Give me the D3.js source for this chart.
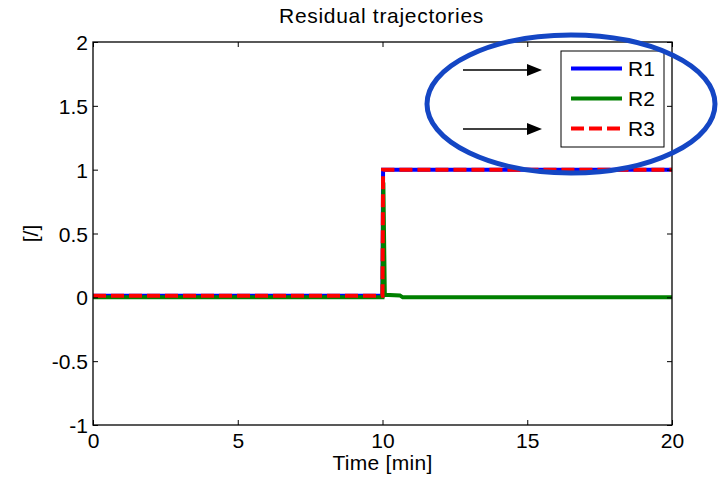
<!DOCTYPE html>
<html><head><meta charset="utf-8">
<script src="https://cdn.jsdelivr.net/npm/d3@7"></script>
<style>body{margin:0;background:#fff}svg{display:block}text{font-family:Arial,"Liberation Sans",sans-serif;fill:#000}</style>
</head><body>
<svg id="c" width="727" height="483"></svg>
<script>
const xTicks = [0, 5, 10, 15, 20];
const yTicks = [-1, -0.5, 0, 0.5, 1, 1.5, 2];
const yTickLabels = ["-1", "-0.5", "0", "0.5", "1", "1.5", "2"];
const r1Time = [0, 10, 10.02, 20];
const r1Vals = [0.012, 0.012, 1, 1];
const r2Time = [0, 10, 10.03, 10.08, 10.6, 10.7, 20];
const r2Vals = [0, 0, 0.9, 0.02, 0.015, 0, 0];
const r3Time = [0, 10, 10.02, 20];
const r3Vals = [0.012, 0.012, 1, 1];
const seriesNames = ["R1", "R2", "R3"];
const seriesColors = ["#0000ff", "#008000", "#ff0000"];

const svg = d3.select("#c");
const L = 93, R = 672, T = 42, B = 425;
const FS = "21px";
const x = d3.scaleLinear().domain([0, 20]).range([L, R]);
const y = d3.scaleLinear().domain([-1, 2]).range([B, T]);

const line = d3.line().x(d => x(d[0])).y(d => y(d[1]));
const series = [
  {t: r1Time, v: r1Vals, c: seriesColors[0], dash: null},
  {t: r2Time, v: r2Vals, c: seriesColors[1], dash: null},
  {t: r3Time, v: r3Vals, c: seriesColors[2], dash: "13,5"}
];
const defs = svg.append("defs");
defs.append("clipPath").attr("id","pc").append("rect")
  .attr("x", L).attr("y", T).attr("width", R-L).attr("height", B-T);
const g = svg.append("g").attr("clip-path", "url(#pc)");
series.forEach(s => {
  g.append("path").attr("d", line(s.t.map((t,i)=>[t, s.v[i]])))
    .attr("fill","none").attr("stroke", s.c).attr("stroke-width", 4)
    .attr("stroke-dasharray", s.dash).attr("stroke-linejoin","miter");
});

svg.append("rect").attr("x", L).attr("y", T).attr("width", R-L).attr("height", B-T)
  .attr("fill","none").attr("stroke","#000").attr("stroke-width",1.3);

const xAx = d3.axisBottom(x).tickValues(xTicks).tickSize(-5).tickPadding(8).tickFormat(d3.format("d"));
const xg = svg.append("g").attr("transform", `translate(0,${B})`).call(xAx);
svg.append("g").attr("transform", `translate(0,${T})`).call(d3.axisTop(x).tickValues(xTicks).tickSize(-5).tickFormat(""));
const yAx = d3.axisLeft(y).tickValues(yTicks).tickSize(-5).tickPadding(5).tickFormat((d,i)=>yTickLabels[i]);
const yg = svg.append("g").attr("transform", `translate(${L},0)`).call(yAx);
svg.append("g").attr("transform", `translate(${R},0)`).call(d3.axisRight(y).tickValues(yTicks).tickSize(-5).tickFormat(""));
svg.selectAll(".domain").remove();
svg.selectAll(".tick line").attr("stroke","#000").attr("stroke-width",1);
svg.selectAll(".tick text").style("font-size",FS).attr("fill","#000");
xg.selectAll(".tick text").attr("dy","0.72em");
yg.selectAll(".tick text").attr("dy","0.36em");

svg.append("text").attr("x", (L+R)/2 - 1).attr("y", 23).attr("text-anchor","middle")
  .style("font-size",FS).style("letter-spacing","0.7px").text("Residual trajectories");
svg.append("text").attr("x", (L+R)/2).attr("y", 470).attr("text-anchor","middle")
  .style("font-size",FS).style("letter-spacing","0.3px").text("Time [min]");
svg.append("text").attr("transform", `translate(38,${(T+B)/2}) rotate(-90)`).attr("text-anchor","middle")
  .style("font-size",FS).text("[/]");

const lg = svg.append("g");
lg.append("rect").attr("x", 561).attr("y", 51).attr("width", 103).attr("height", 96)
  .attr("fill","#fff").attr("stroke","#000").attr("stroke-width",1);
const rowsY = [68.5, 98.5, 128.5];
series.forEach((s, i) => {
  lg.append("line").attr("x1", 571).attr("x2", 622).attr("y1", rowsY[i]).attr("y2", rowsY[i])
    .attr("stroke", s.c).attr("stroke-width", 4).attr("stroke-dasharray", s.dash);
  lg.append("text").attr("x", 628).attr("y", rowsY[i]).attr("dy","0.36em")
    .style("font-size",FS).text(seriesNames[i]);
});

[70, 129].forEach(yy => {
  svg.append("line").attr("x1", 463).attr("x2", 530).attr("y1", yy).attr("y2", yy)
    .attr("stroke","#000").attr("stroke-width",1.3);
  svg.append("path").attr("d", `M527,${yy-6}L542,${yy}L527,${yy+6}Z`).attr("fill","#000");
});

svg.append("ellipse").attr("cx", 571).attr("cy", 104).attr("rx", 144).attr("ry", 69)
  .attr("fill","none").attr("stroke","#1446c4").attr("stroke-width",5);
</script>
</body></html>
